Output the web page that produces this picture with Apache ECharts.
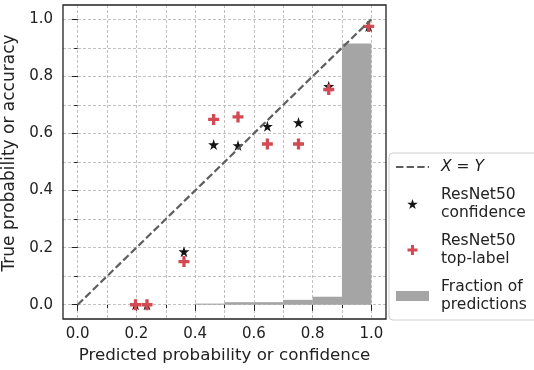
<!DOCTYPE html>
<html>
<head>
<meta charset="utf-8">
<script src="https://cdn.jsdelivr.net/npm/echarts@6/dist/echarts.min.js"></script>
<style>
  html, body { margin: 0; padding: 0; background: #fff; }
  #chart { width: 534px; height: 370px; }
</style>
</head>
<body>
<div id="chart"></div>
<script>
// Reliability diagram: calibration of ResNet50 confidence / top-label predictions

// Histogram of predictions (bin edges and fraction per bin)
const binLeft = [0.0, 0.1, 0.2, 0.3, 0.4, 0.5, 0.6, 0.7, 0.8, 0.9];
const binRight = [0.1, 0.2, 0.3, 0.4, 0.5, 0.6, 0.7, 0.8, 0.9, 1.0];
const binFraction = [0, 0, 0, 0, 0.004, 0.009, 0.009, 0.017, 0.028, 0.915];

// Mean predicted probability per bin (shared by both estimators)
const binMeanPred = [0.197, 0.236, 0.362, 0.463, 0.546, 0.646, 0.752, 0.855, 0.991];
// Observed accuracy, confidence calibration
const confidenceAcc = [0.0, 0.0, 0.186, 0.561, 0.558, 0.625, 0.638, 0.765, 0.975];
// Observed accuracy, top-label calibration
const topLabelAcc = [0.0, 0.0, 0.151, 0.649, 0.658, 0.563, 0.563, 0.754, 0.975];

// Perfect calibration reference
const diagX = [0, 1];
const diagY = [0, 1];

// Tick values
const majorTicks = [0.0, 0.2, 0.4, 0.6, 0.8, 1.0];
const minorTicks = [0.0, 0.1, 0.2, 0.3, 0.4, 0.5, 0.6, 0.7, 0.8, 0.9, 1.0];

const names = {
  diag: 'X = Y',
  conf: 'ResNet50\nconfidence',
  top: 'ResNet50\ntop-label',
  hist: 'Fraction of\npredictions'
};

const FONT = 'DejaVu Sans';
const INK = '#222222';
const STAR = 'path://M0,-1 L0.2245,-0.309 L0.951,-0.309 L0.363,0.118 L0.588,0.809 L0,0.382 L-0.588,0.809 L-0.363,0.118 L-0.951,-0.309 L-0.2245,-0.309 Z';
const PLUS = 'path://M-0.15,-0.5 L0.15,-0.5 L0.15,-0.15 L0.5,-0.15 L0.5,0.15 L0.15,0.15 L0.15,0.5 L-0.15,0.5 L-0.15,0.15 L-0.5,0.15 L-0.5,-0.15 L-0.15,-0.15 Z';

const gridRect = { left: 63, top: 5, width: 323, height: 314, outerBoundsMode: 'none', containLabel: false };
const fmt = v => Number(v).toFixed(1);

const chart = echarts.init(document.getElementById('chart'), null, { renderer: 'canvas' });

chart.setOption({
  animation: false,
  backgroundColor: '#fff',
  textStyle: { fontFamily: FONT },
  grid: [
    Object.assign({ show: true, borderColor: INK, borderWidth: 1.3, backgroundColor: 'transparent', z: 5 }, gridRect),
    Object.assign({ show: false }, gridRect)
  ],
  xAxis: [
    {
      type: 'value', gridIndex: 0, min: -0.05, max: 1.05, position: 'bottom',
      axisLine: { show: false },
      axisTick: { show: true, length: 6, customValues: majorTicks, lineStyle: { color: INK, width: 1 } },
      axisLabel: { customValues: majorTicks, formatter: fmt, color: INK, fontSize: 15, margin: 8, fontFamily: FONT },
      splitLine: { show: false },
      name: 'Predicted probability or confidence', nameLocation: 'middle', nameGap: 28,
      nameTextStyle: { fontSize: 16.7, color: INK, fontFamily: FONT }
    },
    {
      type: 'value', gridIndex: 1, min: -0.05, max: 1.05, position: 'bottom',
      axisLine: { show: false },
      axisTick: { show: true, length: 3.5, customValues: minorTicks, lineStyle: { color: INK, width: 1 } },
      axisLabel: { show: false },
      splitLine: { show: true, lineStyle: { color: '#b3b3b3', width: 0.8, type: [3, 2] } }
    }
  ],
  yAxis: [
    {
      type: 'value', gridIndex: 0, min: -0.05, max: 1.05, position: 'left',
      axisLine: { show: false },
      axisTick: { show: true, length: 6, customValues: majorTicks, lineStyle: { color: INK, width: 1 } },
      axisLabel: { customValues: majorTicks, formatter: fmt, color: INK, fontSize: 15, margin: 10, fontFamily: FONT },
      splitLine: { show: false },
      name: 'True probability or accuracy', nameLocation: 'middle', nameGap: 41,
      nameTextStyle: { fontSize: 17, color: INK, fontFamily: FONT, padding: [0, 0, 0, 18] }
    },
    {
      type: 'value', gridIndex: 1, min: -0.05, max: 1.05, position: 'left',
      axisLine: { show: false },
      axisTick: { show: true, length: 3.5, customValues: minorTicks, lineStyle: { color: INK, width: 1 } },
      axisLabel: { show: false },
      splitLine: { show: true, lineStyle: { color: '#b3b3b3', width: 0.8, type: [3, 2] } }
    }
  ],
  legend: {
    orient: 'vertical',
    left: 389, top: 153,
    padding: [5, 14, 6, 6],
    itemGap: 10,
    itemWidth: 33, itemHeight: 10,
    backgroundColor: '#fff',
    borderColor: '#d0d0d0', borderWidth: 1, borderRadius: 4,
    data: [
      { name: names.diag, itemStyle: { opacity: 0 } },
      { name: names.conf },
      { name: names.top },
      { name: names.hist, icon: 'rect' }
    ],
    formatter: function (name) {
      return name === names.diag ? '{i|X} = {i|Y}' : name;
    },
    textStyle: {
      fontSize: 15.5, lineHeight: 18, color: INK, fontFamily: FONT, padding: [0, 0, 0, 7],
      rich: { i: { fontStyle: 'italic', fontSize: 15.5, color: INK, fontFamily: FONT } }
    }
  },
  series: [
    {
      name: names.hist,
      type: 'custom',
      xAxisIndex: 0, yAxisIndex: 0,
      itemStyle: { color: '#a5a5a5' },
      encode: { x: [0, 1], y: 2 },
      data: binLeft.map((b, i) => [b, binRight[i], binFraction[i]]),
      renderItem: function (params, api) {
        const p0 = api.coord([api.value(0), api.value(2)]);
        const p1 = api.coord([api.value(1), 0]);
        return {
          type: 'rect',
          shape: { x: p0[0], y: p0[1], width: p1[0] - p0[0], height: p1[1] - p0[1] },
          style: { fill: '#a5a5a5' }
        };
      },
      z: 2
    },
    {
      name: names.conf,
      type: 'scatter',
      xAxisIndex: 0, yAxisIndex: 0,
      symbol: STAR, symbolSize: 11,
      itemStyle: { color: '#141414', opacity: 1 },
      data: binMeanPred.map((x, i) => [x, confidenceAcc[i]]),
      z: 3
    },
    {
      name: names.top,
      type: 'scatter',
      xAxisIndex: 0, yAxisIndex: 0,
      symbol: PLUS, symbolSize: 11,
      itemStyle: { color: '#d24b54', opacity: 1 },
      data: binMeanPred.map((x, i) => [x, topLabelAcc[i]]),
      z: 4
    },
    {
      name: names.diag,
      type: 'line',
      xAxisIndex: 0, yAxisIndex: 0,
      symbol: 'none',
      lineStyle: { color: '#5e5e5e', width: 2.2, type: [7.4, 3.2] },
      itemStyle: { color: '#5e5e5e' },
      data: diagX.map((x, i) => [x, diagY[i]]),
      z: 5
    }
  ]
});
</script>
</body>
</html>
